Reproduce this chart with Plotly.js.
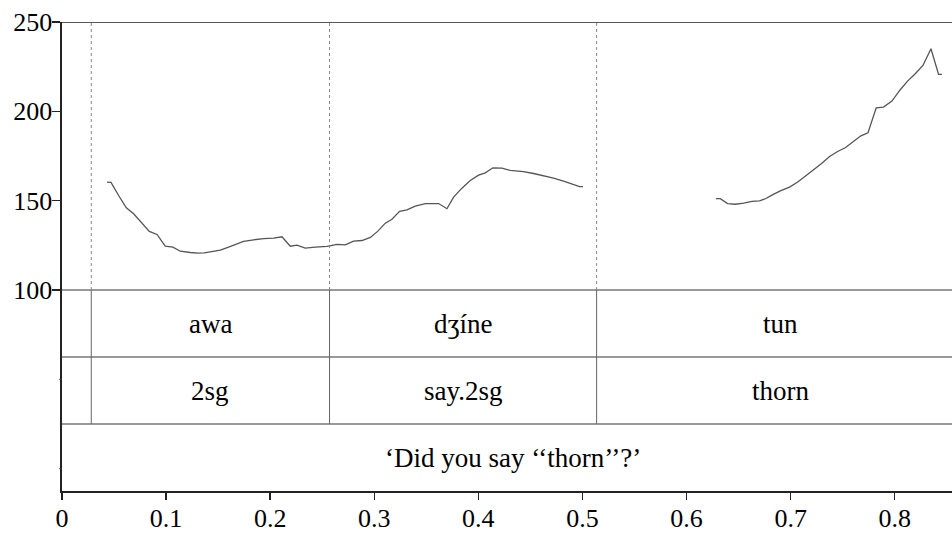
<!DOCTYPE html>
<html>
<head>
<meta charset="utf-8">
<script src="https://cdn.plot.ly/plotly-3.0.1.min.js"></script>
<style>html,body{margin:0;padding:0;background:#fff;}#chart{width:952px;height:533px;}</style>
</head>
<body>
<div id="chart"></div>
<script>
// Pitch track, segment 1 (awa dʒíne)
var time1 = [0.0432,0.0471,0.0544,0.0618,0.0688,0.0768,0.0839,0.0913,0.0992,0.1066,0.1136,0.1232,0.1306,0.1367,0.1441,0.1521,0.1600,0.1665,0.1744,0.1841,0.1937,0.2033,0.2113,0.2193,0.2257,0.2337,0.2402,0.2433,0.2546,0.2642,0.2721,0.2801,0.2882,0.2962,0.3032,0.3106,0.3170,0.3243,0.3314,0.3394,0.3490,0.3618,0.3698,0.3762,0.3842,0.3922,0.4002,0.4066,0.4140,0.4227,0.4306,0.4434,0.4530,0.4626,0.4722,0.4818,0.4914,0.4972,0.5005];
var f0_1  = [160.4,160.2,152.9,146.0,142.7,137.4,132.8,131.1,124.5,124.0,121.7,121.0,120.6,120.8,121.6,122.3,124.0,125.5,127.2,128.1,128.8,129.0,129.8,124.5,125.1,123.4,124.0,124.0,124.4,125.5,125.3,127.3,127.7,129.4,132.8,137.4,139.6,144.0,144.9,146.9,148.3,148.4,145.5,152.0,157.0,161.3,164.3,165.6,168.4,168.2,166.9,166.3,165.2,164.1,162.6,160.9,159.1,157.9,157.9];
// Pitch track, segment 2 (tun)
var time2 = [0.6282,0.6324,0.6394,0.6468,0.6548,0.6628,0.6701,0.6763,0.6820,0.6900,0.6989,0.7061,0.7140,0.7220,0.7294,0.7374,0.7451,0.7524,0.7598,0.7675,0.7743,0.7822,0.7892,0.7973,0.8053,0.8123,0.8197,0.8271,0.8348,0.8421,0.8453];
var f0_2  = [151.1,151.1,148.4,148.0,148.6,149.6,149.9,151.2,153.1,155.5,157.6,160.2,163.7,167.1,170.7,174.7,177.5,179.6,183.0,186.3,188.0,202.0,202.4,205.7,212.1,216.9,221.0,225.7,235.0,220.7,220.7];

// Interval tiers
var boundaries = [0, 0.0281, 0.257, 0.5136, 0.8667];
var words  = ["", "awa", "dʒíne", "tun"];
var glosses = ["", "2sg", "say.2sg", "thorn"];
var translation = "‘Did you say ‘‘thorn’’?’";
var xTicks = [0, 0.1, 0.2, 0.3, 0.4, 0.5, 0.6, 0.7, 0.8];
var xTickText = ["0", "0.1", "0.2", "0.3", "0.4", "0.5", "0.6", "0.7", "0.8"];
var yTicks = [100, 150, 200, 250];
var yTickText = ["100", "150", "200", "250"];

// tier layout in y-units
var tierTops = [100, 62.5, 25];
var tierBottom = -12.5;
var yTop = 250;

var serif = "Liberation Serif";
var shapes = [];
var annotations = [];

// top border
shapes.push({type:"line", xref:"paper", yref:"y", x0:0, x1:1, y0:yTop, y1:yTop, line:{color:"#222", width:1.6}});
// tier horizontal lines
[tierTops[0], tierTops[1], tierTops[2]].forEach(function(v){
  shapes.push({type:"line", xref:"paper", yref:"y", x0:0, x1:1, y0:v, y1:v, line:{color:"#777", width:1.4}});
});
// boundaries
for (var i = 1; i < boundaries.length - 1; i++) {
  var b = boundaries[i];
  shapes.push({type:"line", xref:"x", yref:"y", x0:b, x1:b, y0:tierTops[0], y1:yTop, line:{color:"#888", width:1, dash:"dot"}});
  shapes.push({type:"line", xref:"x", yref:"y", x0:b, x1:b, y0:tierTops[2], y1:tierTops[0], line:{color:"#666", width:1}});
}
// small unlabeled marks on the left axis
[50, 0].forEach(function(v){
  shapes.push({type:"line", xref:"paper", yref:"y", x0:-0.003, x1:0, y0:v, y1:v, line:{color:"#333", width:1}});
});

// tier labels
for (var j = 1; j < boundaries.length - 1; j++) {
  var mid = (boundaries[j] + boundaries[j+1]) / 2;
  annotations.push({x:mid, y:(tierTops[0]+tierTops[1])/2, xref:"x", yref:"y", text:words[j], showarrow:false, font:{family:serif, size:27, color:"#000"}, yanchor:"middle"});
  annotations.push({x:mid, y:(tierTops[1]+tierTops[2])/2, xref:"x", yref:"y", text:glosses[j], showarrow:false, font:{family:serif, size:27, color:"#000"}, yanchor:"middle"});
}
annotations.push({x:(boundaries[0]+boundaries[boundaries.length-1])/2, y:(tierTops[2]+tierBottom)/2, xref:"x", yref:"y", text:translation, showarrow:false, font:{family:serif, size:27, color:"#000"}, yanchor:"middle"});

var traces = [
  {x:time1, y:f0_1, type:"scatter", mode:"lines", line:{color:"#555", width:1.3}, hoverinfo:"skip"},
  {x:time2, y:f0_2, type:"scatter", mode:"lines", line:{color:"#555", width:1.3}, hoverinfo:"skip"}
];

var layout = {
  width:952, height:533,
  margin:{l:62, r:0, t:22, b:42},
  paper_bgcolor:"#fff", plot_bgcolor:"#fff",
  showlegend:false,
  font:{family:serif},
  xaxis:{range:[0, 0.855], tickvals:xTicks, ticktext:xTickText, showgrid:false, zeroline:false,
         showline:true, linecolor:"#222", linewidth:1.6, ticks:"outside", ticklen:7, tickcolor:"#222", tickwidth:1.4,
         ticklabelstandoff:-4,
         tickfont:{family:serif, size:26, color:"#000"}},
  yaxis:{range:[tierBottom, yTop], tickvals:yTicks, ticktext:yTickText, showgrid:false, zeroline:false,
         showline:true, linecolor:"#222", linewidth:1.6, ticks:"outside", ticklen:8, tickcolor:"#222", tickwidth:1.4,
         ticklabelstandoff:-5,
         tickfont:{family:serif, size:26, color:"#000"}},
  shapes:shapes,
  annotations:annotations
};

Plotly.newPlot("chart", traces, layout, {staticPlot:true, displayModeBar:false});
</script>
</body>
</html>
